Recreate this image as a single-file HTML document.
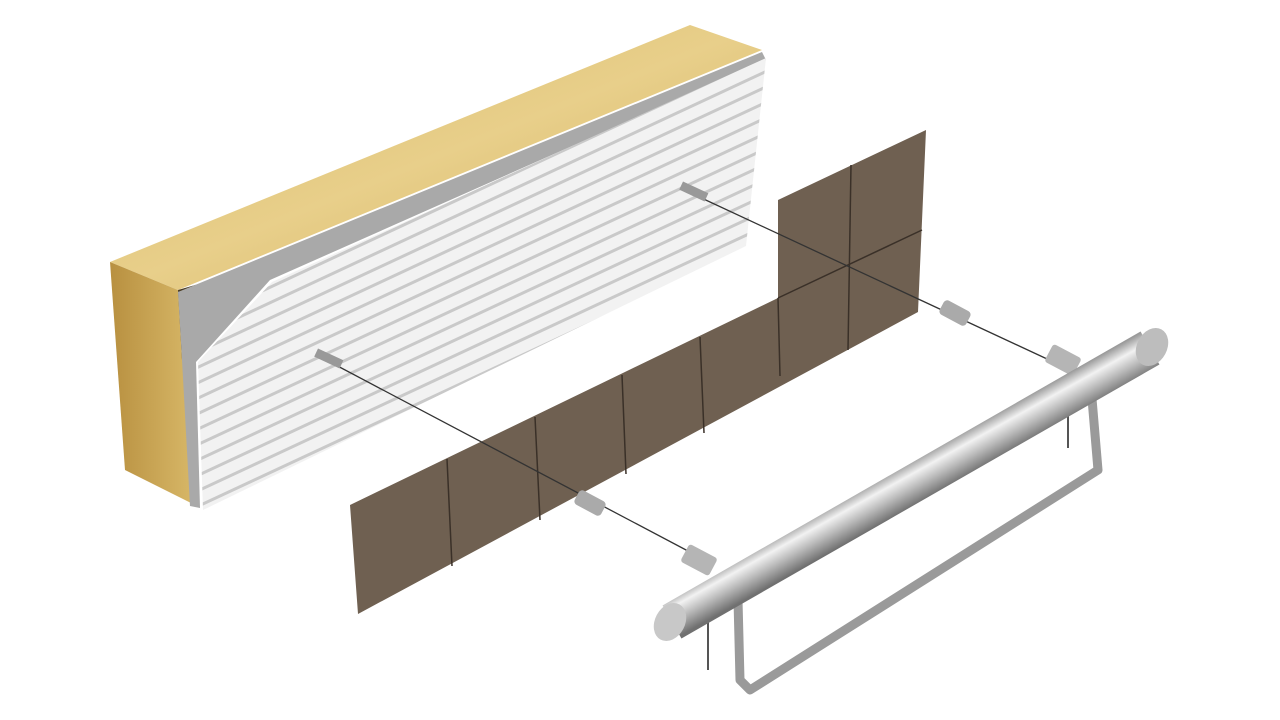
<!DOCTYPE html>
<html><head><meta charset="utf-8"><style>html,body{margin:0;padding:0;background:#fff}svg{display:block}</style></head>
<body>
<svg width="1280" height="720" viewBox="0 0 1280 720" xmlns="http://www.w3.org/2000/svg">
<defs>
<linearGradient id="wood" x1="0" y1="0" x2="1" y2="1">
<stop offset="0" stop-color="#d9b86a"/><stop offset="0.5" stop-color="#e8cf8a"/><stop offset="1" stop-color="#cfa95a"/></linearGradient>
<linearGradient id="woodside" x1="0" y1="0" x2="1" y2="0">
<stop offset="0" stop-color="#b89040"/><stop offset="1" stop-color="#d8b868"/></linearGradient>
<linearGradient id="bar" gradientUnits="userSpaceOnUse" x1="890" y1="472" x2="910" y2="508">
<stop offset="0" stop-color="#9a9a9a"/><stop offset="0.3" stop-color="#f2f2f2"/><stop offset="0.6" stop-color="#bcbcbc"/><stop offset="1" stop-color="#707070"/></linearGradient>
<pattern id="ridge" width="20" height="14" patternUnits="userSpaceOnUse" patternTransform="rotate(-25)">
<rect width="20" height="14" fill="#f2f2f2"/><rect y="9" width="20" height="3" fill="#c9c9c9"/></pattern>
</defs>
<polygon points="110,262 690,25 762,50 178,290" fill="url(#wood)"/>
<polygon points="110,262 178,290 195,505 125,470" fill="url(#woodside)"/>
<polygon points="178,290 240,272 182,360" fill="#4a3b22"/>
<polygon points="178,292 762,52 766,60 270,280 196,362 200,508 190,506 182,360" fill="#a9a9a9"/>
<polygon points="272,282 766,58 746,246 203,510 198,362" fill="url(#ridge)"/>
<polygon points="350,505 778,298 778,200 926,130 918,312 358,614" fill="#6f6051"/>
<g stroke="#3a3028" stroke-width="1.5" fill="none">
<line x1="778" y1="298" x2="780" y2="376"/>
<line x1="851" y1="165" x2="848" y2="350"/>
<line x1="778" y1="298" x2="922" y2="230"/>
<line x1="447" y1="459" x2="452" y2="566"/>
<line x1="535" y1="417" x2="540" y2="520"/>
<line x1="622" y1="375" x2="626" y2="474"/>
<line x1="700" y1="337" x2="704" y2="433"/>
</g>
<g stroke="#333" stroke-width="1.3">
<line x1="330" y1="362" x2="705" y2="560"/>
<line x1="695" y1="195" x2="1060" y2="365"/>
</g>
<rect x="315" y="354" width="28" height="9" fill="#999" transform="rotate(25 329 358)"/>
<rect x="680" y="187" width="28" height="9" fill="#999" transform="rotate(25 694 191)"/>
<rect x="575" y="495" width="30" height="16" rx="4" fill="#aaa" transform="rotate(28 590 503)"/>
<rect x="940" y="305" width="30" height="16" rx="4" fill="#aaa" transform="rotate(28 955 313)"/>
<rect x="683" y="550" width="32" height="20" rx="3" fill="#b5b5b5" transform="rotate(28 699 560)"/>
<rect x="1047" y="350" width="32" height="20" rx="3" fill="#b5b5b5" transform="rotate(28 1063 360)"/>
<polyline points="1090,375 1098,470 750,690 740,680 738,600" fill="none" stroke="#9a9a9a" stroke-width="9" stroke-linejoin="round"/>
<line x1="708" y1="620" x2="708" y2="670" stroke="#555" stroke-width="2"/>
<line x1="1068" y1="410" x2="1068" y2="448" stroke="#555" stroke-width="2"/>
<line x1="672" y1="622" x2="1150" y2="348" stroke="url(#bar)" stroke-width="38" stroke-linecap="butt"/>
<ellipse cx="670" cy="622" rx="15" ry="20" fill="#c8c8c8" transform="rotate(28 670 622)"/>
<ellipse cx="1152" cy="347" rx="15" ry="20" fill="#bdbdbd" transform="rotate(28 1152 347)"/>
</svg>
</body></html>
